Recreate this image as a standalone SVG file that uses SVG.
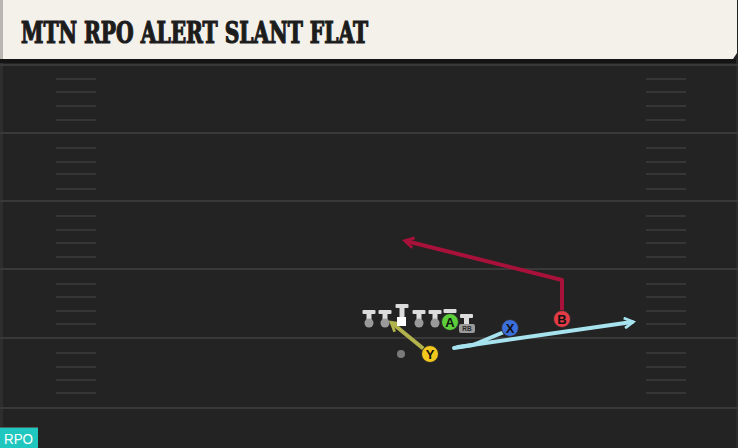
<svg xmlns="http://www.w3.org/2000/svg" width="738" height="448" viewBox="0 0 738 448">
<style>
.yl{stroke:#393939;stroke-width:2}
.hm{stroke:#363636;stroke-width:2}
.tb{fill:#dcdcdc}
.td{fill:#9a9a9a}
.lbl{font-family:"Liberation Sans",Arial,sans-serif;font-weight:bold;font-size:13px;text-anchor:middle;fill:#111}
</style>
<defs>
<marker id="ahB" viewBox="0 0 10 10" refX="7" refY="5" markerWidth="3.2" markerHeight="3.2" orient="auto" markerUnits="strokeWidth">
<path d="M1,1 L8,5 L1,9" fill="none" stroke="#a8123a" stroke-width="2.2"/>
</marker>
<marker id="ahX" viewBox="0 0 10 10" refX="7" refY="5" markerWidth="3.2" markerHeight="3.2" orient="auto" markerUnits="strokeWidth">
<path d="M1,1 L8,5 L1,9" fill="none" stroke="#a6e3ef" stroke-width="2.2"/>
</marker>
<marker id="ahY" viewBox="0 0 10 10" refX="7" refY="5" markerWidth="3.2" markerHeight="3.2" orient="auto" markerUnits="strokeWidth">
<path d="M1,1 L8,5 L1,9" fill="none" stroke="#b2b34c" stroke-width="2.2"/>
</marker>
<g id="lineman">
<rect class="tb" x="-6.5" y="0" width="13" height="4" rx="1"/>
<rect class="tb" x="-2.5" y="3" width="5" height="9"/>
<circle class="td" cx="0" cy="13" r="4.5"/>
</g>
</defs>
<rect width="738" height="448" fill="#232323"/>
<rect x="0" y="59" width="3" height="389" fill="#2e2e2e"/>
<rect x="736" y="59" width="2" height="389" fill="#2c2c2c"/>
<g id="field">
<line class="yl" x1="0" y1="65" x2="738" y2="65"/>
<line class="yl" x1="0" y1="133" x2="738" y2="133"/>
<line class="yl" x1="0" y1="201" x2="738" y2="201"/>
<line class="yl" x1="0" y1="269" x2="738" y2="269"/>
<line class="yl" x1="0" y1="338" x2="738" y2="338"/>
<line class="yl" x1="0" y1="408" x2="738" y2="408"/>
<g id="hashL">
<line class="hm" x1="56" y1="79" x2="96" y2="79"/><line class="hm" x1="56" y1="92" x2="96" y2="92"/><line class="hm" x1="56" y1="106" x2="96" y2="106"/><line class="hm" x1="56" y1="120" x2="96" y2="120"/>
<line class="hm" x1="56" y1="148" x2="96" y2="148"/><line class="hm" x1="56" y1="162" x2="96" y2="162"/><line class="hm" x1="56" y1="174" x2="96" y2="174"/><line class="hm" x1="56" y1="189" x2="96" y2="189"/>
<line class="hm" x1="56" y1="216" x2="96" y2="216"/><line class="hm" x1="56" y1="230" x2="96" y2="230"/><line class="hm" x1="56" y1="243" x2="96" y2="243"/><line class="hm" x1="56" y1="257" x2="96" y2="257"/>
<line class="hm" x1="56" y1="284" x2="96" y2="284"/><line class="hm" x1="56" y1="297" x2="96" y2="297"/><line class="hm" x1="56" y1="311" x2="96" y2="311"/><line class="hm" x1="56" y1="324" x2="96" y2="324"/>
<line class="hm" x1="56" y1="353" x2="96" y2="353"/><line class="hm" x1="56" y1="367" x2="96" y2="367"/><line class="hm" x1="56" y1="380" x2="96" y2="380"/><line class="hm" x1="56" y1="393" x2="96" y2="393"/>
</g>
<use href="#hashL" x="590"/>
</g>
<g id="header">
<rect x="0" y="59" width="736" height="4" fill="#141414"/>
<path d="M0,0 H737 V53 L733,59 H0 Z" fill="#f4f1eb"/>
<rect x="0" y="0" width="3" height="59" fill="#b8b6b2"/>
<text x="21" y="43" font-family="'DejaVu Serif Condensed','DejaVu Serif',serif" font-weight="bold" font-size="29" fill="#1c1c1c" stroke="#1c1c1c" stroke-width="1.2" textLength="347" lengthAdjust="spacingAndGlyphs">MTN RPO ALERT SLANT FLAT</text>
</g>
<g id="connectors">
<polyline points="562,312 562,280 406,241" fill="none" stroke="#a8123a" stroke-width="4" stroke-linejoin="round" marker-end="url(#ahB)"/>
<polyline points="504,332 473,345 454,348" fill="none" stroke="#a6e3ef" stroke-width="4" stroke-linejoin="round" stroke-linecap="round"/>
<line x1="458" y1="347" x2="632" y2="322" stroke="#a6e3ef" stroke-width="4" stroke-linecap="round" marker-end="url(#ahX)"/>
<line x1="425" y1="350" x2="392" y2="323" stroke="#b2b34c" stroke-width="4" marker-end="url(#ahY)"/>
</g>
<g id="OL">
<use href="#lineman" x="369" y="310"/>
<use href="#lineman" x="385" y="310"/>
<g id="C">
<rect class="tb" x="395.5" y="304" width="13" height="4" rx="1"/>
<rect class="tb" x="399.5" y="307" width="5" height="11"/>
<rect x="397" y="317" width="9" height="9" fill="#ffffff"/>
</g>
<use href="#lineman" x="419" y="310"/>
<use href="#lineman" x="435" y="310"/>
</g>
<g id="A">
<rect class="tb" x="443.5" y="309" width="13" height="4" rx="1"/>
<circle cx="450" cy="322" r="8.5" fill="#5ccf3a" stroke="#2a2a2a" stroke-width="1"/>
<text class="lbl" x="450" y="326.5">A</text>
</g>
<g id="RB">
<rect class="tb" x="460" y="314" width="13" height="4" rx="1"/>
<rect class="tb" x="464" y="317" width="5" height="8"/>
<rect x="459" y="324" width="16" height="9" rx="2" fill="#9a9a9a"/>
<text x="467" y="331" font-family="'Liberation Sans',Arial,sans-serif" font-weight="bold" font-size="6.5" text-anchor="middle" fill="#2a2a2a">RB</text>
</g>
<g id="QB"><circle cx="401" cy="354" r="4" fill="#7a7a7a"/></g>
<g id="Y">
<circle cx="430" cy="354" r="8.5" fill="#f2c81c" stroke="#2a2a2a" stroke-width="1"/>
<text class="lbl" x="430" y="358.5">Y</text>
</g>
<g id="X">
<circle cx="510" cy="328" r="8.5" fill="#3b6fdb" stroke="#2a2a2a" stroke-width="1"/>
<text class="lbl" x="510" y="332.5">X</text>
</g>
<g id="B">
<circle cx="562" cy="319" r="8.5" fill="#e23b45" stroke="#2a2a2a" stroke-width="1"/>
<text class="lbl" x="562" y="323.5">B</text>
</g>
<g id="badge">
<rect x="0" y="427" width="38" height="21" fill="#1fc7be"/>
<line x1="0" y1="427" x2="38" y2="427" stroke="#4a1414" stroke-width="1"/>
<text x="4" y="444" font-family="'Liberation Sans',Arial,sans-serif" font-size="15" fill="#ffffff" textLength="29" lengthAdjust="spacingAndGlyphs">RPO</text>
</g>
</svg>
